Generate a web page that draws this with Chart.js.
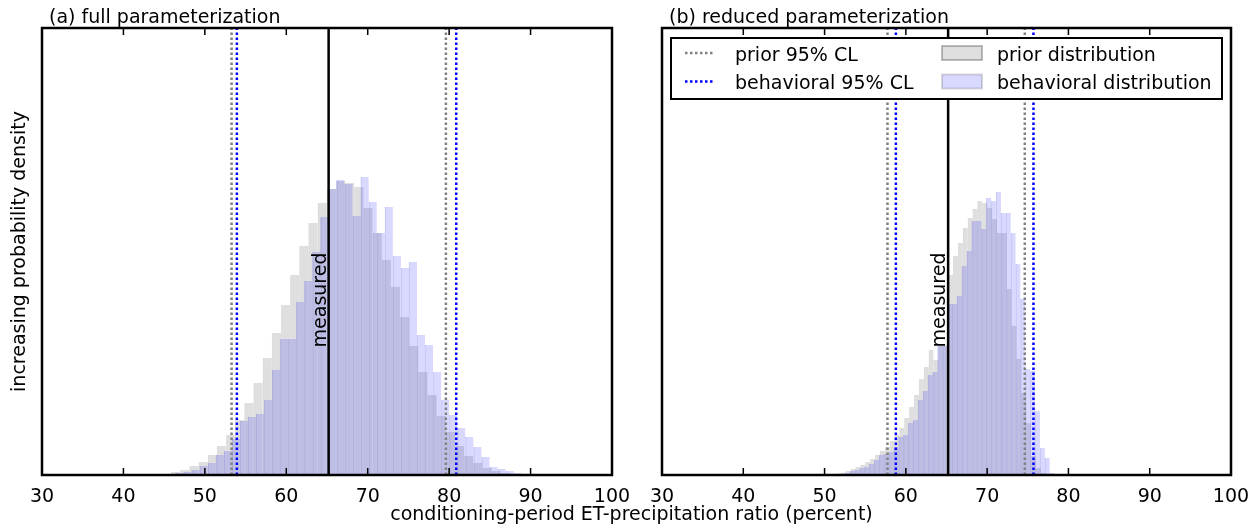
<!DOCTYPE html>
<html>
<head>
<meta charset="utf-8">
<script src="https://cdn.jsdelivr.net/npm/chart.js@4.4.0/dist/chart.umd.min.js"></script>
<style>
  body { margin: 0; background: #fff; }
  #wrap { position: relative; width: 1260px; height: 528px; font-family: "DejaVu Sans", sans-serif; }
  #left { position: absolute; left: 0; top: 0; }
  #right { position: absolute; left: 640px; top: 0; }
  #xtitle { position: absolute; left: 0; top: 504px; width: 1263px; text-align: center;
            font-size: 19px; line-height: 19px; color: #000; }
</style>
</head>
<body>
<div id="wrap">
  <canvas id="left" width="640" height="528"></canvas>
  <canvas id="right" width="620" height="528"></canvas>
  <div id="xtitle">conditioning-period ET-precipitation ratio (percent)</div>
</div>
<script>
const xTicks = [30, 40, 50, 60, 70, 80, 90, 100];
const yMax = 447; // density axis top (arbitrary units)

// (a) full parameterization - bin centres and heights
const fullPriorBins = [45.28, 46.41, 47.53, 48.66, 49.78, 50.91, 52.03, 53.16, 54.28, 55.41,
  56.53, 57.66, 58.78, 59.91, 61.03, 62.16, 63.28, 64.41, 65.53, 66.66,
  67.78, 68.91, 70.03, 71.16, 72.28, 73.41, 74.53, 75.66, 76.78, 77.91,
  79.03, 80.16, 81.28, 82.41, 83.53, 84.66, 85.78, 86.91, 88.03, 89.16];
const fullPriorDensity = [1, 3, 5, 9, 13, 20, 29, 40, 55, 72,
  92, 117, 142, 170, 200, 229, 252, 272, 286, 294,
  292, 288, 267, 242, 215, 188, 158, 129, 103, 80,
  59, 43, 29, 19, 12, 7, 4, 2, 1, 1];
const fullBehavBins = [45.89, 46.88, 47.87, 48.86, 49.85, 50.84, 51.83, 52.82, 53.81, 54.80,
  55.78, 56.77, 57.76, 58.75, 59.74, 60.73, 61.72, 62.71, 63.70, 64.69,
  65.67, 66.66, 67.65, 68.64, 69.63, 70.62, 71.61, 72.60, 73.59, 74.58,
  75.56, 76.55, 77.54, 78.53, 79.52, 80.51, 81.50, 82.49, 83.48, 84.47,
  85.45, 86.44, 87.43, 88.42, 89.41];
const fullBehavDensity = [1, 2, 3, 5, 9, 12, 20, 24, 36, 54,
  58, 61, 75, 105, 136, 136, 173, 194, 223, 258,
  286, 295, 291, 259, 298, 273, 242, 268, 219, 207,
  213, 140, 130, 103, 75, 60, 47, 38, 28, 18,
  8, 6, 4, 2, 1];
const fullPriorCL = [53.28, 79.6];
const fullBehavCL = [53.93, 80.87];

// (b) reduced parameterization
const redPriorBins = [51.7, 52.3, 52.9, 53.5, 54.1, 54.7, 55.3, 55.9, 56.5, 57.1,
  57.7, 58.3, 58.9, 59.5, 60.1, 60.7, 61.3, 61.9, 62.5, 63.1,
  63.7, 64.3, 64.9, 65.5, 66.1, 66.7, 67.3, 67.9, 68.5, 69.1,
  69.7, 70.3, 70.9, 71.5, 72.1, 72.7, 73.3, 73.9, 74.5, 75.1,
  75.7, 76.3, 76.9];
const redPriorDensity = [1.5, 2.5, 4, 6, 8, 10, 13, 16, 20, 24,
  28, 34, 40, 47, 57, 68, 80, 96, 108, 125,
  115, 130, 130, 200, 219, 232, 247, 257, 266, 274,
  272, 267, 256, 242, 242, 186, 149, 116, 82, 52,
  19, 7, 2];
const redBehavBins = [52.8, 53.4, 54.0, 54.6, 55.2, 55.8, 56.4, 57.0, 57.6, 58.2,
  58.8, 59.4, 60.0, 60.6, 61.2, 61.8, 62.4, 63.0, 63.6, 64.2,
  64.8, 65.4, 66.0, 66.6, 67.2, 67.8, 68.4, 69.0, 69.6, 70.2,
  70.8, 71.4, 72.0, 72.6, 73.2, 73.8, 74.4, 75.0, 75.6, 76.2,
  76.8, 77.4, 78.0];
const redBehavDensity = [2, 4, 5, 7, 8, 11, 15, 20, 21, 23,
  28, 38, 40, 52, 55, 75, 84, 100, 103, 129,
  129, 171, 171, 179, 209, 224, 254, 254, 246, 277,
  274, 283, 262, 262, 242, 211, 176, 106, 104, 64,
  27, 17, 2];
const redPriorCL = [57.74, 74.63];
const redBehavCL = [58.77, 75.7];

const measured = 65.2;
const measuredLabelY = 175;
const panelTitles = ["(a) full parameterization", "(b) reduced parameterization"];
const legendLabels = ["prior 95% CL", "behavioral 95% CL", "prior distribution", "behavioral distribution"];

Chart.defaults.font.family = '"DejaVu Sans", sans-serif';
Chart.defaults.color = "#000";

const priorFill = "rgba(128,128,128,0.25)";
const behavFill = "rgba(0,0,255,0.15)";
const fontMain = { size: 19, family: '"DejaVu Sans", sans-serif' };

function histDataset(label, bins, dens, fill, edge, edgeWidth, axis, order) {
  return {
    type: "bar",
    label: label,
    xAxisID: axis,
    order: order,
    data: bins.map((b, i) => ({ x: b, y: dens[i] })),
    backgroundColor: fill,
    borderColor: edge,
    borderWidth: { left: edgeWidth, right: 0, top: 0, bottom: 0 },
    barPercentage: 1,
    categoryPercentage: 1,
    grouped: false,
    edgeColor: label === legendLabels[2] ? "rgba(0,0,0,0.25)" : "rgba(0,0,0,0.15)"
  };
}

function vline(label, x, color, dashed) {
  return {
    type: "line",
    label: label,
    xAxisID: "x",
    order: 0,
    data: [{ x: x, y: 0 }, { x: x, y: yMax }],
    borderColor: color,
    borderWidth: 2.5,
    borderDash: dashed ? [2.5, 2.5] : [],
    borderCapStyle: "butt",
    pointRadius: 0,
    fill: false
  };
}

function buildDatasets(pBins, pDens, bBins, bDens, pCL, bCL) {
  return [
    vline(legendLabels[0], pCL[0], "#808080", true),
    vline(legendLabels[0], pCL[1], "#808080", true),
    vline(legendLabels[1], bCL[0], "#0000ff", true),
    vline(legendLabels[1], bCL[1], "#0000ff", true),
    vline("measured", measured, "#000", false),
    histDataset(legendLabels[3], bBins, bDens, behavFill, "rgba(70,70,200,0.18)", 0.6, "x2", 1),
    histDataset(legendLabels[2], pBins, pDens, priorFill, "rgba(0,0,0,0.04)", 0.6, "x", 2)
  ];
}

// frame, inward ticks, titles, "measured" label and legend box
const panelDecor = {
  id: "panelDecor",
  afterDraw(chart, args, opts) {
    const { ctx, chartArea: a, scales } = chart;
    const xs = scales.x;
    ctx.save();
    ctx.strokeStyle = "#000";
    ctx.lineWidth = 1.5;
    xs.ticks.forEach(t => {
      const px = xs.getPixelForValue(t.value);
      ctx.beginPath();
      ctx.moveTo(px, a.bottom); ctx.lineTo(px, a.bottom - 7);
      ctx.moveTo(px, a.top); ctx.lineTo(px, a.top + 7);
      ctx.stroke();
    });
    ctx.lineWidth = 2.5;
    ctx.strokeRect(a.left, a.top, a.right - a.left, a.bottom - a.top);

    ctx.font = '19px "DejaVu Sans"';
    ctx.fillStyle = "#000";
    ctx.textAlign = "left";
    ctx.textBaseline = "alphabetic";
    ctx.fillText(opts.title, a.left + 7, a.top - 5);

    const mx = xs.getPixelForValue(measured);
    const my = scales.y.getPixelForValue(measuredLabelY);
    ctx.save();
    ctx.translate(mx - 3, my);
    ctx.rotate(-Math.PI / 2);
    ctx.textAlign = "center";
    ctx.fillText("measured", 0, 0);
    ctx.restore();

    if (opts.legend) {
      const L = a.left + 9, T = a.top + 10, W = 551, H = 61;
      ctx.fillStyle = "#fff";
      ctx.fillRect(L, T, W, H);
      ctx.lineWidth = 2;
      ctx.strokeStyle = "#000";
      ctx.strokeRect(L, T, W, H);
      const rows = [T + 15, T + 43.5];
      const find = name => chart.data.datasets.find(d => d.label === name);
      // line entries
      [legendLabels[0], legendLabels[1]].forEach((name, i) => {
        const ds = find(name);
        ctx.save();
        ctx.strokeStyle = ds.borderColor;
        ctx.lineWidth = 2.5;
        ctx.setLineDash([2.5, 2.5]);
        ctx.beginPath();
        ctx.moveTo(L + 14, rows[i]);
        ctx.lineTo(L + 42, rows[i]);
        ctx.stroke();
        ctx.restore();
        ctx.fillStyle = "#000";
        ctx.fillText(name, L + 64, rows[i] + 7.7);
      });
      // patch entries
      [legendLabels[2], legendLabels[3]].forEach((name, i) => {
        const ds = find(name);
        ctx.fillStyle = ds.backgroundColor;
        ctx.fillRect(L + 271, rows[i] - 7, 40, 14);
        ctx.strokeStyle = ds.edgeColor;
        ctx.lineWidth = 2;
        ctx.strokeRect(L + 271, rows[i] - 7, 40, 14);
        ctx.fillStyle = "#000";
        ctx.fillText(name, L + 326, rows[i] + 7.7);
      });
    }
    ctx.restore();
  }
};

function xScales() {
  return {
    x: {
      type: "linear", min: 30, max: 100, offset: false,
      afterFit: s => { s.height = 53; },
      afterBuildTicks: s => { s.ticks = xTicks.map(v => ({ value: v })); },
      ticks: { color: "#000", font: fontMain, padding: 3, maxRotation: 0, autoSkip: false },
      grid: { display: false },
      border: { display: false }
    },
    x2: { type: "linear", min: 30, max: 100, offset: false, display: false }
  };
}

function makeChart(id, title, showLegend, padding, yAxis, datasets) {
  const scales = xScales();
  scales.y = yAxis;
  return new Chart(document.getElementById(id), {
    type: "bar",
    data: { datasets: datasets },
    options: {
      responsive: false,
      animation: false,
      layout: { padding: padding },
      scales: scales,
      plugins: {
        legend: { display: false },
        tooltip: { enabled: false },
        panelDecor: { title: title, legend: showLegend }
      }
    },
    plugins: [panelDecor]
  });
}

makeChart("left", panelTitles[0], false,
  { top: 28, right: 28, left: 0, bottom: 0 },
  {
    min: 0, max: yMax,
    afterFit: s => { s.width = 42; },
    ticks: { display: false },
    grid: { display: false },
    border: { display: false },
    title: { display: true, text: "increasing probability density", color: "#000", font: fontMain, padding: { top: 9, bottom: 0 } }
  },
  buildDatasets(fullPriorBins, fullPriorDensity, fullBehavBins, fullBehavDensity, fullPriorCL, fullBehavCL));

makeChart("right", panelTitles[1], true,
  { top: 28, right: 29, left: 22, bottom: 0 },
  { min: 0, max: yMax, display: false },
  buildDatasets(redPriorBins, redPriorDensity, redBehavBins, redBehavDensity, redPriorCL, redBehavCL));
</script>
</body>
</html>
